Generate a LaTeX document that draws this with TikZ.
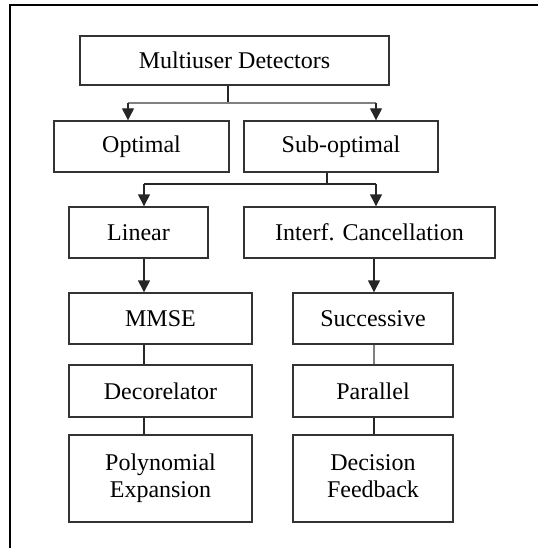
\documentclass[tikz,border=0pt]{standalone}
\usepackage{fontspec}
\setmainfont{Liberation Serif}
\usetikzlibrary{arrows.meta}
\newcommand{\twoline}[2]{\raisebox{4pt}{\begin{tabular}{@{}c@{}}#1\\[-1pt]#2\end{tabular}}}
\begin{document}
\begin{tikzpicture}[x=1pt,y=-1pt,
  box/.style={draw=black!80, line width=1.4pt, fill=white, inner sep=0pt, align=center,
    font=\fontsize{24}{28}\selectfont},
  conn/.style={draw=black!85, line width=1.4pt},
  arr/.style={conn, -{Triangle[width=12pt,length=12pt]}},
  gconn/.style={draw=black!50, line width=1.8pt}]
\useasboundingbox (0,0) rectangle (538,548);
\draw[line width=2.6pt] (10,548) -- (10,5) -- (538,5);
\node[box, minimum width=309pt, minimum height=49pt] (md) at (234.5,60.5) {Multiuser Detectors};
\node[box, minimum width=175pt, minimum height=51pt] (opt) at (141.5,146.5) {Optimal};
\node[box, minimum width=194pt, minimum height=51pt] (sub) at (341,146.5) {Sub-optimal};
\node[box, minimum width=139pt, minimum height=51pt] (lin) at (138.5,232.5) {Linear};
\node[box, minimum width=251pt, minimum height=51pt] (ic) at (369.5,232.5) {Interf. Cancellation};
\node[box, minimum width=183pt, minimum height=51pt] (mmse) at (160.5,318.5) {MMSE};
\node[box, minimum width=160pt, minimum height=51pt] (succ) at (373,318.5) {Successive};
\node[box, minimum width=183pt, minimum height=52pt] (dec) at (160.5,391) {Decorelator};
\node[box, minimum width=160pt, minimum height=52pt] (par) at (373,391) {Parallel};
\node[box, minimum width=183pt, minimum height=87pt] (poly) at (160.5,478.5) {\twoline{Polynomial}{Expansion}};
\node[box, minimum width=160pt, minimum height=87pt] (df) at (373,478.5) {\twoline{Decision}{Feedback}};
% junction coordinates
\coordinate (c1) at (228,103);
\coordinate (l1) at (128,103);
\coordinate (r1) at (376,103);
\coordinate (c2) at (327,184);
\coordinate (l2) at (144,184);
\coordinate (r2) at (376,184);
\coordinate (xl) at (144,0);
\coordinate (xr) at (374,0);
% level 1
\draw[conn] (md.south -| c1) -- (c1);
\draw[gconn] (l1) -- (r1);
\draw[arr] (l1) -- (opt.north -| l1);
\draw[arr] (r1) -- (sub.north -| r1);
% level 2
\draw[conn] (sub.south -| c2) -- (c2) -- (l2);
\draw[conn] (c2) -- (r2);
\draw[arr] (l2) -- (lin.north -| l2);
\draw[arr] (r2) -- (ic.north -| r2);
% left column
\draw[arr] (lin.south -| xl) -- (mmse.north -| xl);
\draw[conn] (mmse.south -| xl) -- (dec.north -| xl);
\draw[conn] (dec.south -| xl) -- (poly.north -| xl);
% right column
\draw[arr] (ic.south -| xr) -- (succ.north -| xr);
\draw[gconn] (succ.south -| xr) -- (par.north -| xr);
\draw[conn] (par.south -| xr) -- (df.north -| xr);
\end{tikzpicture}
\end{document}
